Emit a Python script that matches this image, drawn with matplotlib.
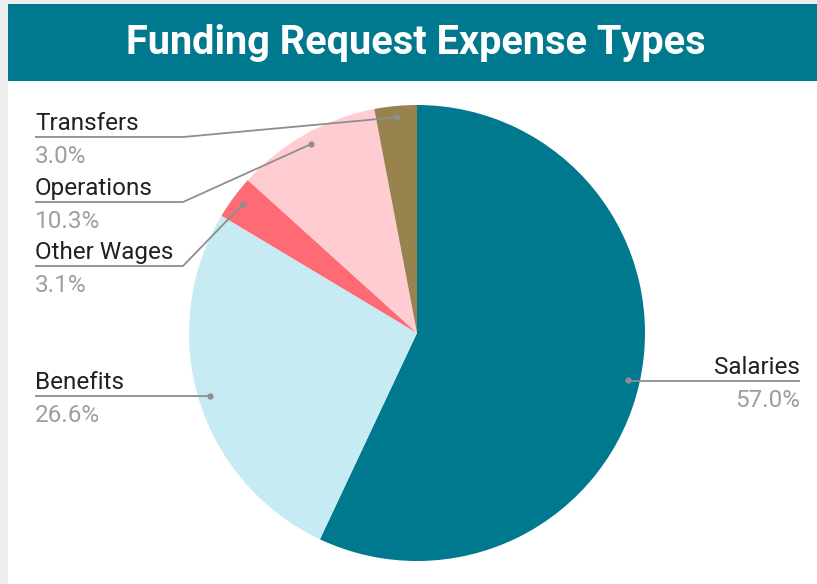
import numpy as np
import matplotlib
matplotlib.use("Agg")
import matplotlib.pyplot as plt
from matplotlib.patches import Rectangle

plt.rcParams['font.family'] = ['Roboto', 'DejaVu Sans']

# Expense breakdown (percent of total funding request)
categories = ["Salaries", "Benefits", "Other Wages", "Operations", "Transfers"]
shares = [57.0, 26.6, 3.1, 10.3, 3.0]
colors = ["#00788E", "#C6EBF3", "#FF6B75", "#FFCDD1", "#98834F"]
title = "Funding Request Expense Types"

W, H = 817, 584
fig = plt.figure(figsize=(W / 100, H / 100), dpi=100, facecolor="#EEEEEE")
ax = fig.add_axes([0, 0, 1, 1])
ax.set_axis_off()

# work in pixel units with y measured from the top
def py(y):
    return H - y

# white panel and title bar
ax.add_patch(Rectangle((8.5, 0), W - 8.5, py(80.5), facecolor="white", edgecolor="none", zorder=0))
ax.add_patch(Rectangle((8.5, py(80.5)), W - 8.5, 76.5, facecolor="#00788E", edgecolor="none", zorder=0))
ax.text(416, py(43), title, color="white", fontsize=28.6, fontweight="bold",
        ha="center", va="center", zorder=3)

cx, cy, R = 417, py(333), 228
wedges, _ = ax.pie(shares, colors=colors, startangle=90, counterclock=False,
                   radius=R, center=(cx, cy), frame=True,
                   wedgeprops=dict(linewidth=0))
ax.set_xlim(0, W)
ax.set_ylim(0, H)
ax.set_aspect("auto")
ax.set_axis_off()

# label layout: (line y in px from top, side, elbow x or None)
layout = {
    "Salaries":    (381, "right", None),
    "Benefits":    (396, "left", None),
    "Other Wages": (266, "left", 183),
    "Operations":  (202, "left", 183),
    "Transfers":   (137, "left", 183),
}
line_col = "#8E8E8E"
for w, name, val in zip(wedges, categories, shares):
    mid = np.deg2rad((w.theta1 + w.theta2) / 2)
    dx = cx + 0.95 * R * np.cos(mid)
    dy = cy + 0.95 * R * np.sin(mid)
    ly, side, elbow = layout[name]
    ly = py(ly)
    if side == "right":
        xs, ys = [dx, 800], [dy, ly]
        tx, ha = 800, "right"
        if abs(dy - ly) > 0.5:
            xs, ys = [dx, dx, 800], [dy, ly, ly]
    else:
        if elbow is None:
            xs, ys = [dx, 35], [dy, ly]
        else:
            xs, ys = [dx, elbow, 35], [dy, ly, ly]
        tx, ha = 35, "left"
    ax.plot(xs, ys, color=line_col, lw=1.3, solid_capstyle="butt", zorder=4)
    ax.plot([dx], [dy], "o", ms=4.5, color=line_col, mec="none", zorder=5)
    ax.text(tx, ly + 7, name, fontsize=17.5, color="#212121", ha=ha, va="baseline", zorder=5)
    ax.text(tx, ly - 26, f"{val:.1f}%", fontsize=17.5, color="#9E9E9E", ha=ha, va="baseline", zorder=5)

fig.savefig("out.png", dpi=100, facecolor=fig.get_facecolor())
